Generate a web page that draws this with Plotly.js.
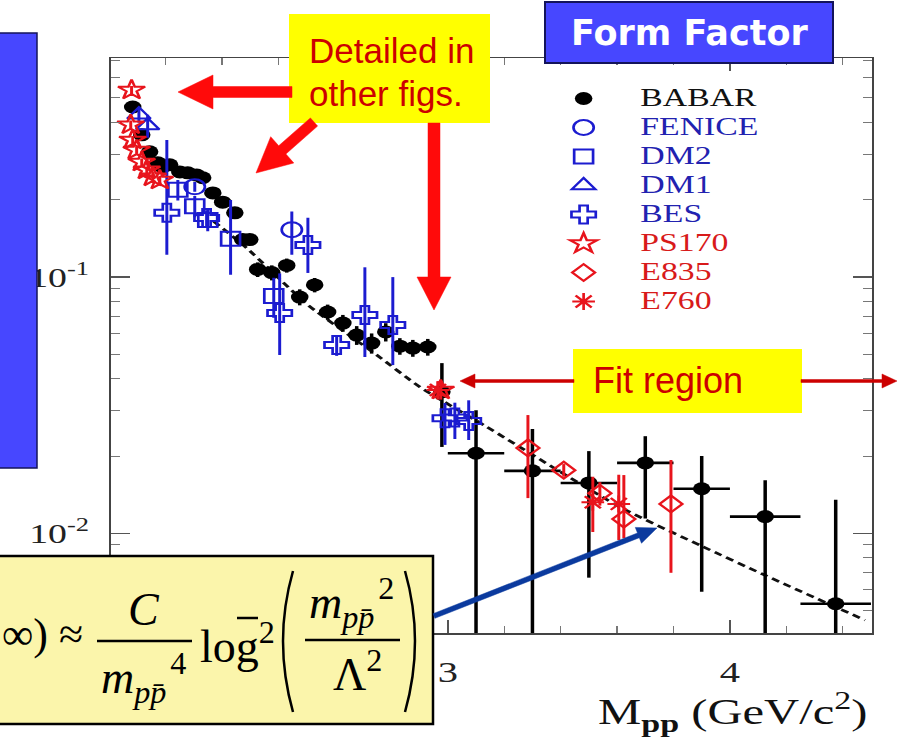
<!DOCTYPE html>
<html><head><meta charset="utf-8">
<script src="https://cdn.plot.ly/plotly-3.0.1.min.js"></script>
<style>
html,body{margin:0;padding:0;background:#fff;overflow:hidden;}
#wrap{position:relative;width:898px;height:744px;overflow:hidden;background:#fff;}
#chart{position:absolute;left:0;top:0;height:744px;transform-origin:0 0;}
#over{position:absolute;left:0;top:0;width:898px;height:744px;}
</style></head>
<body><div id="wrap"><div id="chart"></div><div id="over"></div></div>
<script>
// ---------------- data ----------------
const babarX = [1.883,1.915,1.943,1.972,1.989,2.014,2.050,2.078,2.110,2.131,2.167,2.202,2.245,2.273,2.298,2.326,2.376,2.429,2.475,2.528,2.574,2.628,2.677,2.730,2.780,2.830,2.876,2.929,2.979,3.10,3.30,3.50,3.70,3.90,4.125,4.375];
const babarY = [0.461,0.359,0.308,0.279,0.269,0.274,0.257,0.255,0.250,0.244,0.213,0.196,0.178,0.140,0.140,0.107,0.104,0.111,0.0835,0.0931,0.0730,0.0661,0.0593,0.0552,0.0610,0.0537,0.0528,0.0533,0.0356,0.0205,0.0175,0.0157,0.0188,0.0149,0.0116,0.0053];
const babarErrUp = [0.015,0.012,0.010,0.009,0.009,0.009,0.009,0.009,0.009,0.009,0.008,0.008,0.008,0.007,0.007,0.007,0.007,0.007,0.006,0.006,0.005,0.005,0.005,0.005,0.005,0.004,0.004,0.004,0.0105,0.0097,0.0080,0.0052,0.0051,0.0051,0.0045,0.0082];
const babarErrDown = [0.015,0.012,0.010,0.009,0.009,0.009,0.009,0.009,0.009,0.009,0.008,0.008,0.008,0.007,0.007,0.007,0.007,0.007,0.006,0.006,0.005,0.005,0.005,0.005,0.005,0.004,0.004,0.004,0.0139,0.0195,0.0165,0.0090,0.0074,0.0090,0.0106,0.0048];
const babarBinHalf = [0,0,0,0,0,0,0,0,0,0,0,0,0,0,0,0,0,0,0,0,0,0,0,0,0,0,0,0,0,0.1,0.1,0.1,0.1,0.1,0.125,0.125];

const feniceX = [2.103, 2.447];
const feniceY = [0.225, 0.153];
const feniceErrUp = [0.010, 0.027];
const feniceErrDown = [0.010, 0.031];

const dm2X = [2.043, 2.103, 2.149, 2.230, 2.383];
const dm2Y = [0.219, 0.189, 0.167, 0.141, 0.0843];
const dm2ErrUp = [0.020, 0.018, 0.016, 0.059, 0.015];
const dm2ErrDown = [0.020, 0.018, 0.016, 0.039, 0.015];

const dm1X = [1.905, 1.936];
const dm1Y = [0.43, 0.39];
const dm1ErrUp = [0.03, 0.04];
const dm1ErrDown = [0.03, 0.04];

const besX = [2.004, 2.145, 2.404, 2.504, 2.606, 2.706, 2.805, 2.990, 3.025, 3.074];
const besY = [0.178, 0.170, 0.0723, 0.1334, 0.0542, 0.0711, 0.0649, 0.0281, 0.0283, 0.0274];
const besErrUp = [0.165, 0.012, 0.031, 0.037, 0.005, 0.038, 0.035, 0.0041, 0.0040, 0.0056];
const besErrDown = [0.056, 0.012, 0.0227, 0.0297, 0.005, 0.0224, 0.0196, 0.0060, 0.0050, 0.0043];

const ps170X = [1.879, 1.876, 1.883, 1.897, 1.915, 1.933, 1.954, 1.979, 2.975];
const ps170Y = [0.537, 0.393, 0.343, 0.313, 0.281, 0.262, 0.246, 0.239, 0.0362];
const ps170Err = [0.02, 0.015, 0.012, 0.010, 0.009, 0.008, 0.008, 0.008, 0.003];

const e835X = [3.284, 3.411, 3.539, 3.624, 3.791];
const e835Y = [0.0215, 0.0176, 0.0143, 0.01135, 0.0130];
const e835ErrUp = [0.0074, 0.0010, 0.0015, 0.0055, 0.0063];
const e835ErrDown = [0.0078, 0.0010, 0.0015, 0.0018, 0.0060];

const e760X = [2.965, 3.514, 3.606];
const e760Y = [0.0362, 0.0132, 0.0130];
const e760ErrUp = [0.003, 0.0034, 0.0039];
const e760ErrDown = [0.003, 0.0031, 0.0036];

const fitX = [2.17, 2.287, 2.504, 2.748, 2.901, 3.138, 3.610, 3.901, 4.124, 4.479];
const fitY = [0.165, 0.1297, 0.0778, 0.0496, 0.0372, 0.0260, 0.01264, 0.00889, 0.00685, 0.00457];

const xTickVals = [3, 4];
const yTickVals = [0.01, 0.1];
const yTickText = ['10<sup>-2</sup>', '10<sup>-1</sup>'];
const yMinorVals = [0.005,0.006,0.007,0.008,0.009,0.02,0.03,0.04,0.05,0.06,0.07,0.08,0.09,0.2,0.3,0.4,0.5,0.6,0.7];

// ---------------- geometry ----------------
const S = 1.35;                 // the chart picture is stretched horizontally
const W0 = 898 / S;
const ML = 111 / S, MR = 26 / S, MT = 58, MB = 111;
const plotW = W0 - ML - MR, plotH = 744 - MT - MB;
function cpx(X){ return (X / S - ML) / plotW; }
function cpy(Y){ return (744 - MB - Y) / plotH; }

const BLUE = '#1c1cd0', BLUET = '#2222b0', RED = '#e8141c', REDT = '#d81a1a';
const SERIF = 'Liberation Serif, Times New Roman, serif';

function eb(up, down, color, th){
  return {type:'data', symmetric:false, array:up, arrayminus:down, color:color, thickness:th, width:0};
}
function lname(txt, color){
  return '<span style="font-size:25px;color:' + color + '">' + txt + '</span>';
}

const traces = [
  {x: fitX, y: fitY, mode:'lines', line:{color:'#111', width:2.6, dash:'6px,4px', shape:'spline', smoothing:0.6},
   showlegend:false, hoverinfo:'skip'},
  {name: lname('BABAR', '#111'), legendrank:1, x: babarX, y: babarY, mode:'markers',
   marker:{symbol:'circle', size:13, color:'#000'},
   error_y: eb(babarErrUp, babarErrDown, '#000', 2.6),
   error_x: {type:'data', array: babarBinHalf, color:'#000', thickness:2.6, width:0}},
  {name: lname('FENICE', BLUET), legendrank:2, x: feniceX, y: feniceY, mode:'markers',
   marker:{symbol:'circle-open', size:15, color:BLUE, line:{width:2, color:BLUE}},
   error_y: eb(feniceErrUp, feniceErrDown, BLUE, 2.2)},
  {name: lname('DM2', BLUET), legendrank:3, x: dm2X, y: dm2Y, mode:'markers',
   marker:{symbol:'square-open', size:14, color:BLUE, line:{width:2, color:BLUE}},
   error_y: eb(dm2ErrUp, dm2ErrDown, BLUE, 2.2)},
  {name: lname('DM1', BLUET), legendrank:4, x: dm1X, y: dm1Y, mode:'markers',
   marker:{symbol:'triangle-up-open', size:15, color:BLUE, line:{width:2, color:BLUE}},
   error_y: eb(dm1ErrUp, dm1ErrDown, BLUE, 2.2)},
  {name: lname('BES', BLUET), legendrank:5, x: besX, y: besY, mode:'markers',
   marker:{symbol:'cross-open', size:15, color:BLUE, line:{width:2, color:BLUE}},
   error_y: eb(besErrUp, besErrDown, BLUE, 2.2)},
  {name: lname('PS170', REDT), legendrank:6, x: ps170X, y: ps170Y, mode:'markers',
   marker:{symbol:'star-open', size:15, color:RED, line:{width:2, color:RED}},
   error_y: eb(ps170Err, ps170Err, RED, 2.2)},
  {name: lname('E835', REDT), legendrank:7, x: e835X, y: e835Y, mode:'markers',
   marker:{symbol:'diamond-open', size:13, color:RED, line:{width:2, color:RED}},
   error_y: eb(e835ErrUp, e835ErrDown, RED, 2.2)},
  {name: lname('E760', REDT), legendrank:8, x: e760X, y: e760Y, mode:'markers',
   marker:{symbol:'asterisk-open', size:14, color:RED, line:{width:2, color:RED}},
   error_y: eb(e760ErrUp, e760ErrDown, RED, 2.2)}
];

const chartLayout = {
  width: W0, height: 744,
  margin: {l: ML, r: MR, t: MT, b: MB, pad: 0},
  paper_bgcolor: 'rgba(0,0,0,0)', plot_bgcolor: '#fff',
  showlegend: true,
  legend: {x: cpx(527), y: cpy(79), xanchor:'left', yanchor:'top', bgcolor:'rgba(0,0,0,0)',
           font:{family:SERIF, size:20, color:'#111'}, itemwidth:74, tracegroupgap:0, traceorder:'normal'},
  xaxis: {range:[1.805, 4.504], showgrid:false, zeroline:false, showline:true, linecolor:'#444', linewidth:1.5,
          mirror:'ticks', ticks:'inside', ticklen:13, tickwidth:1.2, tickcolor:'#555',
          tickmode:'array', tickvals:xTickVals, ticktext:xTickVals.map(String), ticklabelstandoff:12,
          tickfont:{family:SERIF, size:30, color:'#222'},
          minor:{ticks:'inside', ticklen:7, dtick:0.2, tick0:0, tickcolor:'#777', tickwidth:1}},
  yaxis: {type:'log', range:[-2.39, -0.145], showgrid:false, zeroline:false, showline:true, linecolor:'#444', linewidth:1.5,
          mirror:'ticks', ticks:'inside', ticklen:14, tickwidth:1.2, tickcolor:'#555',
          tickmode:'array', tickvals:yTickVals, ticktext:yTickText, ticklabelstandoff:9,
          tickfont:{family:SERIF, size:28, color:'#222'},
          minor:{ticks:'inside', ticklen:7, tickmode:'array', tickvals:yMinorVals, tickcolor:'#777', tickwidth:1}},
  annotations: [
    {xref:'paper', yref:'paper', x: cpx(596), y: cpy(712), xanchor:'left', yanchor:'middle', showarrow:false,
     text:'M<sub><b>pp</b></sub> (GeV/c<sup>2</sup>)', font:{family:SERIF, size:36, color:'#111'}}
  ]
};

const chartDiv = document.getElementById('chart');
chartDiv.style.width = W0 + 'px';
chartDiv.style.transform = 'scaleX(' + S + ')';
Plotly.newPlot(chartDiv, traces, chartLayout, {staticPlot:true, displayModeBar:false});

// ---------------- slide overlay (boxes, arrows, formula) ----------------
function arrow(x1,y1,x2,y2,sw,hl,hw){
  const dx=x2-x1, dy=y2-y1, L=Math.hypot(dx,dy), ux=dx/L, uy=dy/L, nx=-uy, ny=ux;
  const bx=x2-ux*hl, by=y2-uy*hl;
  const p=[[x1+nx*sw/2,y1+ny*sw/2],[bx+nx*sw/2,by+ny*sw/2],[bx+nx*hw/2,by+ny*hw/2],[x2,y2],
           [bx-nx*hw/2,by-ny*hw/2],[bx-nx*sw/2,by-ny*sw/2],[x1-nx*sw/2,y1-ny*sw/2]];
  return 'M'+p.map(q=>q[0].toFixed(1)+','+q[1].toFixed(1)).join('L')+'Z';
}
function rect(x0,y0,x1,y1,fill,lc,lw){
  return {type:'rect', xref:'x', yref:'y', x0:x0, y0:y0, x1:x1, y1:y1, fillcolor:fill, line:{color:lc||fill, width:lw||0}, layer:'above'};
}
function poly(d, color){
  return {type:'path', xref:'x', yref:'y', path:d, fillcolor:color, line:{color:color, width:0.5}, layer:'above'};
}
function seg(x0,y0,x1,y1,color,w){
  return {type:'line', xref:'x', yref:'y', x0:x0, y0:y0, x1:x1, y1:y1, line:{color:color, width:w}, layer:'above'};
}
function T(text,x,y,size,opt){
  opt = opt || {};
  return {xref:'x', yref:'y', x:x, y:y, text:text, showarrow:false,
          xanchor:opt.xa||'center', yanchor:'middle',
          font:{family:opt.family||SERIF, size:size, color:opt.color||'#000'}};
}

const ARROWRED = '#ff0a0a';
const overShapes = [
  rect(-3, 33, 37, 468, '#4747ff', '#14145a', 1.5),
  rect(545, 2, 833, 63, '#4747ff', '#14145a', 2),
  rect(289, 14, 490, 123, '#ffff00'),
  poly(arrow(292, 92, 178, 92, 11, 35, 34), ARROWRED),
  poly(arrow(314, 122, 256, 173, 11, 35, 35), ARROWRED),
  poly(arrow(434, 123, 434, 310, 12, 33, 34), ARROWRED),
  rect(573, 349, 802, 413, '#ffff00'),
  poly(arrow(574, 381, 460, 381, 3, 15, 14), '#cc0000'),
  poly(arrow(801, 381, 897, 381, 3, 15, 14), '#cc0000'),
  rect(-3, 556, 433, 724, '#fbf5ab', '#000', 2.5),
  seg(97, 641, 192, 641, '#000', 2.5),
  seg(305, 640, 400, 640, '#000', 2.5),
  seg(237, 618, 258, 618, '#000', 2.5),
  {type:'path', xref:'x', yref:'y', path:'M293,571 Q273,641 293,712', line:{color:'#000', width:2.5}, layer:'above'},
  {type:'path', xref:'x', yref:'y', path:'M405,571 Q425,641 405,712', line:{color:'#000', width:2.5}, layer:'above'},
  poly(arrow(434, 616, 657, 528, 5, 20, 17), '#0b3a9e')
];

const SANS = 'Liberation Sans, Arial, sans-serif';
const overAnn = [
  T('<b>Form Factor</b>', 689, 33, 35, {family:'DejaVu Sans, Verdana, sans-serif', color:'#ffffff'}),
  T('Detailed in', 307, 50, 35, {family:SANS, color:'#cc0000', xa:'left'}),
  T('other figs.', 307, 93, 35, {family:SANS, color:'#cc0000', xa:'left'}),
  T('Fit region', 591, 380, 36, {family:SANS, color:'#cc0000', xa:'left'}),
  T('\u221E) \u2248', 0, 634, 44, {xa:'left'}),
  T('<i>C</i>', 144, 609, 46),
  T('<i>m</i><sub><i>pp\u0304</i></sub>\u200A<sup>4</sup>', 99, 677, 46, {xa:'left'}),
  T('log<sup>2</sup>', 198, 643, 46, {xa:'left'}),
  T('<i>m</i><sub><i>pp\u0304</i></sub>\u200A<sup>2</sup>', 307, 602, 46, {xa:'left'}),
  T('\u039B<sup>2</sup>', 331, 671, 46, {xa:'left'})
];

const overLayout = {
  width: 898, height: 744, margin:{l:0, r:0, t:0, b:0, pad:0},
  paper_bgcolor:'rgba(0,0,0,0)', plot_bgcolor:'rgba(0,0,0,0)', showlegend:false,
  xaxis:{range:[0, 898], visible:false, fixedrange:true},
  yaxis:{range:[744, 0], visible:false, fixedrange:true},
  shapes: overShapes, annotations: overAnn
};
Plotly.newPlot('over', [], overLayout, {staticPlot:true, displayModeBar:false});
</script>
</body></html>
